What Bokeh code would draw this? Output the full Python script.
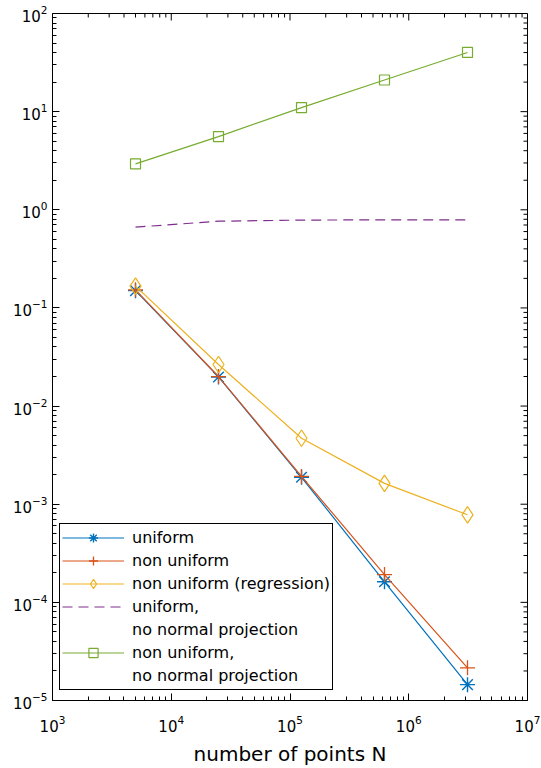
import math
from bokeh.plotting import figure
from bokeh.models import (Range1d, FixedTicker, LogTickFormatter, Legend, LegendItem)
from bokeh.embed import file_html
from bokeh.resources import INLINE

# ---- data ----
N = [5000, 25000, 125000, 625000, 3125000]
err_uniform = [0.150, 0.0198, 1.88e-3, 1.62e-4, 1.45e-5]
err_nonuniform = [0.153, 0.0200, 1.92e-3, 1.92e-4, 2.15e-5]
err_regression = [0.167, 0.0265, 4.7e-3, 1.63e-3, 7.8e-4]
err_uniform_noproj = [0.665, 0.765, 0.785, 0.79, 0.79]
err_nonuniform_noproj = [2.94, 5.57, 11.0, 21.0, 40.1]

labels = ["uniform", "non uniform", "non uniform (regression)",
          "uniform,\nno normal projection", "non uniform,\nno normal projection"]
x_ticks = [1e3, 1e4, 1e5, 1e6, 1e7]
y_ticks = [1e-5, 1e-4, 1e-3, 1e-2, 1e-1, 1e0, 1e1, 1e2]
x_label = "number of points N"

FONT = "DejaVu Sans"
C_BLUE = "#0072BD"
C_RED = "#D95319"
C_YEL = "#EDB120"
C_PUR = "#7E2F8E"
C_GRN = "#77AC30"

MAJ_LEN = 7
MIN_LEN = 4


def minors(ticks):
    out = []
    for t in ticks[:-1]:
        out += [k * t for k in range(2, 10)]
    return out


p = figure(width=541, height=768, x_axis_type="log", y_axis_type="log",
           x_range=Range1d(x_ticks[0], x_ticks[-1]),
           y_range=Range1d(y_ticks[0], y_ticks[-1]),
           output_backend="svg", toolbar_location=None,
           min_border_left=52, min_border_right=14, min_border_top=13,
           min_border_bottom=67)
p.xgrid.visible = False
p.ygrid.visible = False
p.outline_line_color = "black"
p.outline_line_alpha = 1.0
p.background_fill_color = "white"
p.border_fill_color = "white"


def style(ax, ticks):
    ax.ticker = FixedTicker(ticks=ticks, minor_ticks=minors(ticks))
    ax.major_tick_in = MAJ_LEN
    ax.major_tick_out = 0
    ax.minor_tick_in = MIN_LEN
    ax.minor_tick_out = 0
    ax.axis_line_color = "black"
    ax.major_tick_line_color = "black"
    ax.minor_tick_line_color = "black"
    ax.formatter = LogTickFormatter()
    ax.major_label_text_font = FONT
    ax.major_label_text_font_size = "15px"
    ax.major_label_text_color = "black"


style(p.xaxis[0], x_ticks)
style(p.yaxis[0], y_ticks)
p.xaxis[0].major_label_standoff = 14
p.yaxis[0].major_label_standoff = 5
p.xaxis[0].axis_label = x_label
p.xaxis[0].axis_label_text_font = FONT
p.xaxis[0].axis_label_text_font_size = "20px"
p.xaxis[0].axis_label_text_font_style = "normal"
p.xaxis[0].axis_label_text_color = "black"
p.xaxis[0].axis_label_standoff = 7

# inward tick marks on the top and right edges of the box
y_top = y_ticks[-1]
x_right = x_ticks[-1]
p.ray(x=x_ticks, y=[y_top] * len(x_ticks), length=MAJ_LEN, length_units="screen",
      angle=-math.pi / 2, line_color="black", line_width=1)
xm = minors(x_ticks)
p.ray(x=xm, y=[y_top] * len(xm), length=MIN_LEN, length_units="screen",
      angle=-math.pi / 2, line_color="black", line_width=1)
p.ray(x=[x_right] * len(y_ticks), y=y_ticks, length=MAJ_LEN, length_units="screen",
      angle=math.pi, line_color="black", line_width=1)
ym = minors(y_ticks)
p.ray(x=[x_right] * len(ym), y=ym, length=MIN_LEN, length_units="screen",
      angle=math.pi, line_color="black", line_width=1)

lw = 1.2
l1 = p.line(N, err_uniform, line_color=C_BLUE, line_width=lw)
m1 = p.scatter(N, err_uniform, marker="asterisk", size=15, line_color=C_BLUE, line_width=1.4)
l2 = p.line(N, err_nonuniform, line_color=C_RED, line_width=lw)
m2 = p.scatter(N, err_nonuniform, marker="cross", size=15, line_color=C_RED, line_width=1.3)
l3 = p.line(N, err_regression, line_color=C_YEL, line_width=lw)
m3 = p.scatter(N, err_regression, marker="diamond", size=16.5, line_color=C_YEL,
               fill_color=None, line_width=lw)
l4 = p.line(N, err_uniform_noproj, line_color=C_PUR, line_width=lw, line_dash="10 6")
l5 = p.line(N, err_nonuniform_noproj, line_color=C_GRN, line_width=lw)
m5 = p.scatter(N, err_nonuniform_noproj, marker="square", size=10, line_color=C_GRN,
               fill_color=None, line_width=lw)
# an empty, transparent renderer: legend rows that only continue a label
blank = p.line(x=[], y=[], line_alpha=0)

items = []
for lab, rens in zip(labels, [[l1, m1], [l2, m2], [l3, m3], [l4], [l5, m5]]):
    lines = lab.split("\n")
    items.append(LegendItem(label=lines[0], renderers=rens))
    for extra in lines[1:]:
        items.append(LegendItem(label=extra, renderers=[blank]))

legend = Legend(items=items, location=(7, 10))
legend.border_line_color = "black"
legend.border_line_width = 1
legend.border_line_alpha = 1
legend.background_fill_alpha = 1
legend.label_text_font = FONT
legend.label_text_font_size = "16px"
legend.label_text_color = "black"
legend.glyph_width = 62
legend.glyph_height = 23
legend.label_standoff = 8
legend.label_height = 23
legend.spacing = 0
legend.padding = 2
legend.margin = 0
p.add_layout(legend)

open("out.html", "w").write(file_html(p, INLINE))
